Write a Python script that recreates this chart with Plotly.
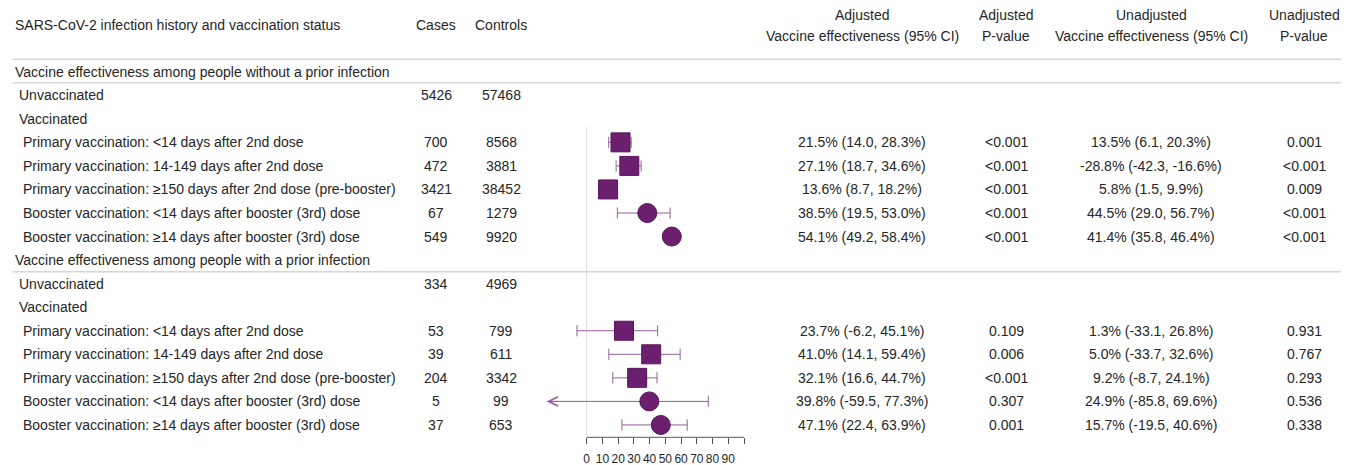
import plotly.graph_objects as go

W, H = 1358, 465

# ---------------- data ----------------
row_labels = [
    "Vaccine effectiveness among people without a prior infection",
    "Unvaccinated",
    "Vaccinated",
    "Primary vaccination: <14 days after 2nd dose",
    "Primary vaccination: 14-149 days after 2nd dose",
    "Primary vaccination: \u2265150 days after 2nd dose (pre-booster)",
    "Booster vaccination: <14 days after booster (3rd) dose",
    "Booster vaccination: \u226514 days after booster (3rd) dose",
    "Vaccine effectiveness among people with a prior infection",
    "Unvaccinated",
    "Vaccinated",
    "Primary vaccination: <14 days after 2nd dose",
    "Primary vaccination: 14-149 days after 2nd dose",
    "Primary vaccination: \u2265150 days after 2nd dose (pre-booster)",
    "Booster vaccination: <14 days after booster (3rd) dose",
    "Booster vaccination: \u226514 days after booster (3rd) dose",
]
row_levels = [0, 1, 1, 2, 2, 2, 2, 2, 0, 1, 1, 2, 2, 2, 2, 2]
cases = ["", "5426", "", "700", "472", "3421", "67", "549",
         "", "334", "", "53", "39", "204", "5", "37"]
controls = ["", "57468", "", "8568", "3881", "38452", "1279", "9920",
            "", "4969", "", "799", "611", "3342", "99", "653"]

adj_ve = [None, None, None, 21.5, 27.1, 13.6, 38.5, 54.1,
          None, None, None, 23.7, 41.0, 32.1, 39.8, 47.1]
adj_lo = [None, None, None, 14.0, 18.7, 8.7, 19.5, 49.2,
          None, None, None, -6.2, 14.1, 16.6, -59.5, 22.4]
adj_hi = [None, None, None, 28.3, 34.6, 18.2, 53.0, 58.4,
          None, None, None, 45.1, 59.4, 44.7, 77.3, 63.9]
adj_p = ["", "", "", "<0.001", "<0.001", "<0.001", "<0.001", "<0.001",
         "", "", "", "0.109", "0.006", "<0.001", "0.307", "0.001"]

unadj_ve = [None, None, None, 13.5, -28.8, 5.8, 44.5, 41.4,
            None, None, None, 1.3, 5.0, 9.2, 24.9, 15.7]
unadj_lo = [None, None, None, 6.1, -42.3, 1.5, 29.0, 35.8,
            None, None, None, -33.1, -33.7, -8.7, -85.8, -19.5]
unadj_hi = [None, None, None, 20.3, -16.6, 9.9, 56.7, 46.4,
            None, None, None, 26.8, 32.6, 24.1, 69.6, 40.6]
unadj_p = ["", "", "", "0.001", "<0.001", "0.009", "<0.001", "<0.001",
           "", "", "", "0.931", "0.767", "0.293", "0.536", "0.338"]

tick_vals = [0, 10, 20, 30, 40, 50, 60, 70, 80, 90, 100]
tick_text = ["0", "10", "20", "30", "40", "50", "60", "70", "80", "90", ""]

# ---------------- layout constants ----------------
ROW0_PX, ROW_STEP = 71.7, 23.55
AXIS_PX = 437.3
X0_PX, PX_PER_UNIT = 586.7, 1.573
PLOT_L_PX, PLOT_R_PX = 543, 746
CLIP = -25.4
FONT = "Liberation Sans, Arial, sans-serif"
TXT = "#262626"
PURPLE = "#6b1f6e"
PURPLE_DARK = "#551657"
CI_COL = "#93609a"
FS = 14


def row_of(py):
    return (py - ROW0_PX) / ROW_STEP


def xp(px):
    return px / W


rows = list(range(len(row_labels)))

fig = go.Figure()

# CI lines
ci_x, ci_y, cap_x, cap_y = [], [], [], []
arrow_rows = []
for i in rows:
    if adj_ve[i] is None:
        continue
    lo = adj_lo[i]
    if lo < CLIP:
        lo_d = CLIP
        arrow_rows.append(i)
    else:
        lo_d = lo
        cap_x.append(lo)
        cap_y.append(i)
    ci_x += [lo_d, adj_hi[i], None]
    ci_y += [i, i, None]
    cap_x.append(adj_hi[i])
    cap_y.append(i)

fig.add_trace(go.Scatter(x=ci_x, y=ci_y, mode="lines",
                         line=dict(color=CI_COL, width=1), hoverinfo="skip",
                         showlegend=False))
fig.add_trace(go.Scatter(x=cap_x, y=cap_y, mode="markers",
                         marker=dict(symbol="line-ns", size=8,
                                     line=dict(color=CI_COL, width=1)),
                         hoverinfo="skip", showlegend=False))

sq = [i for i in rows if adj_ve[i] is not None and row_labels[i].startswith("Primary")]
ci = [i for i in rows if adj_ve[i] is not None and row_labels[i].startswith("Booster")]
fig.add_trace(go.Scatter(x=[adj_ve[i] for i in sq], y=sq, mode="markers",
                         marker=dict(symbol="square", size=19, color=PURPLE,
                                     line=dict(color=PURPLE_DARK, width=1)),
                         showlegend=False))
fig.add_trace(go.Scatter(x=[adj_ve[i] for i in ci], y=ci, mode="markers",
                         marker=dict(symbol="circle", size=19, color=PURPLE,
                                     line=dict(color=PURPLE_DARK, width=1)),
                         showlegend=False))

annotations = []
for i in arrow_rows:
    annotations.append(dict(x=CLIP, y=i, ax=CLIP + 8, ay=i, xref="x", yref="y",
                            axref="x", ayref="y", text="", showarrow=True,
                            arrowhead=5, arrowsize=1.8, arrowwidth=1,
                            arrowcolor=CI_COL))


def txt(x_px, y_row, s, anchor="left", size=FS):
    annotations.append(dict(x=xp(x_px), y=y_row, xref="paper", yref="y",
                            text=s, showarrow=False, xanchor=anchor,
                            yanchor="middle",
                            font=dict(family=FONT, size=size, color=TXT)))


# headers
hdr = row_of(25)
txt(12.7, hdr, "SARS-CoV-2 infection history and vaccination status")
txt(436, hdr, "Cases", "center")
txt(501, hdr, "Controls", "center")
h1, h2 = row_of(15), row_of(35.5)
txt(862, h1, "Adjusted", "center")
txt(862, h2, "Vaccine effectiveness (95% CI)", "center")
txt(1006, h1, "Adjusted", "center")
txt(1006, h2, "P-value", "center")
txt(1151, h1, "Unadjusted", "center")
txt(1151, h2, "Vaccine effectiveness (95% CI)", "center")
txt(1304, h1, "Unadjusted", "center")
txt(1304, h2, "P-value", "center")

indent = {0: 12.7, 1: 16.7, 2: 20.7}
for i in rows:
    txt(indent[row_levels[i]], i, row_labels[i])
    if cases[i]:
        txt(436, i, cases[i], "center")
    if controls[i]:
        txt(501, i, controls[i], "center")
    if adj_ve[i] is not None:
        txt(862, i, f"{adj_ve[i]:.1f}% ({adj_lo[i]:.1f}, {adj_hi[i]:.1f}%)", "center")
        txt(1006, i, adj_p[i], "center")
        txt(1151, i, f"{unadj_ve[i]:.1f}% ({unadj_lo[i]:.1f}, {unadj_hi[i]:.1f}%)", "center")
        txt(1304, i, unadj_p[i], "center")

shapes = []
for py in (59.3, 82.7, 271.7):
    shapes.append(dict(type="line", xref="paper", yref="y",
                       x0=xp(12.7), x1=xp(1341), y0=row_of(py), y1=row_of(py),
                       line=dict(color="#d6d6d6", width=1.5)))
# zero reference line
shapes.append(dict(type="line", xref="x", yref="y", x0=0, x1=0,
                   y0=row_of(127), y1=row_of(AXIS_PX),
                   line=dict(color="#dcdcdc", width=1), layer="below"))
# axis line from 0 to 100
shapes.append(dict(type="line", xref="x", yref="y domain", x0=0, x1=100,
                   y0=0, y1=0, line=dict(color="#555555", width=1)))

fig.update_layout(
    width=W, height=H,
    margin=dict(l=0, r=0, t=0, b=0),
    paper_bgcolor="white", plot_bgcolor="white",
    annotations=annotations, shapes=shapes,
    xaxis=dict(domain=[xp(PLOT_L_PX), xp(PLOT_R_PX)],
               range=[(PLOT_L_PX - X0_PX) / PX_PER_UNIT, (PLOT_R_PX - X0_PX) / PX_PER_UNIT],
               showgrid=False, zeroline=False, showline=False,
               tickmode="array", tickvals=tick_vals, ticktext=tick_text,
               ticks="outside", ticklen=6, tickwidth=1, tickcolor="#555555",
               ticklabelstandoff=4,
               tickfont=dict(family=FONT, size=12, color=TXT)),
    yaxis=dict(domain=[(H - AXIS_PX) / H, 1],
               range=[row_of(AXIS_PX), row_of(0)],
               visible=False, showgrid=False, zeroline=False),
    showlegend=False,
)

fig.write_html("out.html", config={"displayModeBar": False},
               post_script="document.body.style.margin='0';document.body.style.overflow='hidden';")
